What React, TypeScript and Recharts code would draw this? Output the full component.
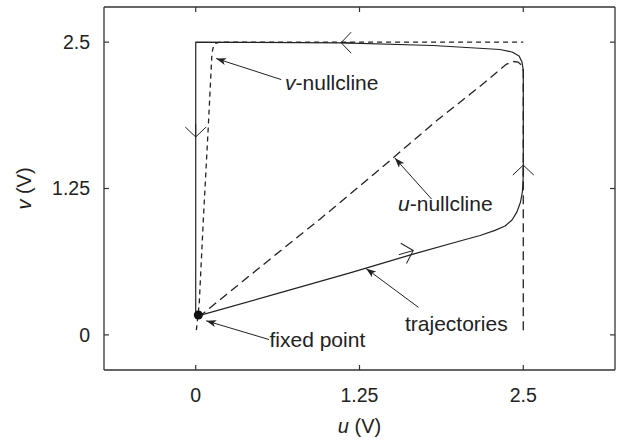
import React from 'react';
import { ComposedChart, Line, XAxis, YAxis, Scatter } from 'recharts';

// axis setup
const xDomain: [number, number] = [-0.7, 3.2];
const yDomain: [number, number] = [-0.3, 2.8];
const xTicks = [0, 1.25, 2.5];
const yTicks = [0, 1.25, 2.5];

// solid closed trajectory (u, v in volts)
const trajectory = [
  { u: 0.025, v: 0.164 },
  { u: 0.64, v: 0.358 },
  { u: 1.178, v: 0.529 },
  { u: 1.659, v: 0.69 },
  { u: 2.017, v: 0.802 },
  { u: 2.17, v: 0.849 },
  { u: 2.284, v: 0.892 },
  { u: 2.361, v: 0.93 },
  { u: 2.414, v: 0.981 },
  { u: 2.452, v: 1.05 },
  { u: 2.479, v: 1.135 },
  { u: 2.493, v: 1.22 },
  { u: 2.498, v: 1.306 },
  { u: 2.5, v: 1.4 },
  { u: 2.5, v: 2.262 },
  { u: 2.49, v: 2.33 },
  { u: 2.468, v: 2.382 },
  { u: 2.414, v: 2.416 },
  { u: 2.323, v: 2.437 },
  { u: 1.81, v: 2.471 },
  { u: 1.117, v: 2.493 },
  { u: 0.415, v: 2.498 },
  { u: 0, v: 2.5 },
  { u: 0, v: 0.17 },
];

// u-nullcline (long dashes)
const uNullcline = [
  { u: 0.02, v: 0.15 },
  { u: 0.56, v: 0.64 },
  { u: 0.95, v: 0.99 },
  { u: 1.4, v: 1.41 },
  { u: 1.84, v: 1.83 },
  { u: 2.2, v: 2.15 },
  { u: 2.37, v: 2.31 },
  { u: 2.42, v: 2.335 },
  { u: 2.46, v: 2.33 },
  { u: 2.49, v: 2.3 },
  { u: 2.5, v: 2.25 },
  { u: 2.5, v: 0 },
];

// v-nullcline (short dashes)
const vNullcline = [
  { u: 0.005, v: 0.04 },
  { u: 0.027, v: 0.272 },
  { u: 0.058, v: 0.981 },
  { u: 0.096, v: 1.778 },
  { u: 0.124, v: 2.407 },
  { u: 0.136, v: 2.467 },
  { u: 0.147, v: 2.488 },
  { u: 0.185, v: 2.5 },
  { u: 2.5, v: 2.5 },
];

const fixedPoint = [{ u: 0.02, v: 0.17 }];

// direction chevrons along the trajectory: [from, tip]
const flowArrowDown = [{ u: 0, v: 1.8 }, { u: 0, v: 1.69 }];
const flowArrowLeft = [{ u: 1.2, v: 2.495 }, { u: 1.11, v: 2.495 }];
const flowArrowUp = [{ u: 2.5, v: 1.35 }, { u: 2.5, v: 1.45 }];
const flowArrowRight = [{ u: 1.55, v: 0.685 }, { u: 1.66, v: 0.72 }];

// annotation arrows: [tail, tip]
const vNullArrow = [{ u: 0.653, v: 2.18 }, { u: 0.156, v: 2.36 }];
const uNullArrow = [{ u: 1.8, v: 1.16 }, { u: 1.52, v: 1.51 }];
const trajArrow = [{ u: 1.7, v: 0.235 }, { u: 1.3, v: 0.567 }];
const fixedArrow = [{ u: 0.56, v: -0.04 }, { u: 0.08, v: 0.12 }];

// annotation labels (text start, baseline)
const labels = [
  { u: 0.682, v: 2.09, italic: 'v', text: '-nullcline' },
  { u: 1.544, v: 1.058, italic: 'u', text: '-nullcline' },
  { u: 1.597, v: 0.033, italic: '', text: 'trajectories' },
  { u: 0.563, v: -0.103, italic: '', text: 'fixed point' },
];

const FONT = '"Liberation Sans", Arial, Helvetica, sans-serif';
const INK = '#222';

const LabelShape = (p: any) => (
  <text x={p.cx} y={p.cy} fontSize={21} fill={INK} fontFamily={FONT}>
    {p.payload.italic ? <tspan fontStyle="italic">{p.payload.italic}</tspan> : null}
    {p.payload.text}
  </text>
);

const XTitle = (p: any) => {
  const vb = p.viewBox || {};
  const x = vb.x + vb.width / 2;
  const y = vb.y + 63;
  return (
    <text x={x} y={y} textAnchor="middle" fontSize={20} fill={INK} fontFamily={FONT}>
      <tspan fontStyle="italic">u</tspan> (V)
    </text>
  );
};

const YTitle = (p: any) => {
  const vb = p.viewBox || {};
  const x = vb.x + vb.width - 80;
  const y = vb.y + vb.height / 2;
  return (
    <text
      x={x}
      y={y}
      textAnchor="middle"
      dominantBaseline="central"
      transform={`rotate(-90 ${x} ${y})`}
      fontSize={20}
      fill={INK}
      fontFamily={FONT}
    >
      <tspan fontStyle="italic">v</tspan> (V)
    </text>
  );
};

const axisLine = { stroke: '#333', strokeWidth: 1.3 };
const tickLine = { stroke: '#333', strokeWidth: 1.2 };
const tickStyle = { fontSize: 19.5, fill: INK, fontFamily: FONT };

export default function App() {
  const arrowLine = (data: any[], id: string, marker: string) => (
    <Line
      key={id}
      data={data}
      dataKey="v"
      type="linear"
      stroke={INK}
      strokeWidth={1}
      dot={false}
      activeDot={false}
      isAnimationActive={false}
      markerEnd={`url(#${marker})`}
    />
  );
  return (
    <div style={{ position: 'absolute', left: 0, top: 0, background: '#fff' }}>
      <svg width={0} height={0} style={{ position: 'absolute' }}>
        <defs>
          <marker
            id="chev"
            viewBox="-12 -12 24 24"
            refX={0}
            refY={0}
            markerWidth={24}
            markerHeight={24}
            markerUnits="userSpaceOnUse"
            orient="auto"
          >
            <path d="M-10,-10.5 L0,0 L-10,10.5" fill="none" stroke={INK} strokeWidth={1} />
          </marker>
          <marker
            id="head"
            viewBox="0 0 10 7"
            refX={10}
            refY={3.5}
            markerWidth={10}
            markerHeight={7}
            markerUnits="userSpaceOnUse"
            orient="auto"
          >
            <path d="M0,0 L10,3.5 L0,7 L2.5,3.5 z" fill={INK} />
          </marker>
        </defs>
      </svg>
      <ComposedChart width={622} height={441} margin={{ top: 6, right: 6, bottom: 30, left: 44 }}>
        <XAxis
          type="number"
          dataKey="u"
          domain={xDomain}
          ticks={xTicks}
          allowDataOverflow
          height={41}
          axisLine={axisLine}
          tickLine={tickLine}
          tickSize={-5}
          tickMargin={23}
          tick={tickStyle}
          label={{ content: XTitle }}
        />
        <XAxis
          xAxisId="top"
          orientation="top"
          type="number"
          dataKey="u"
          domain={xDomain}
          ticks={xTicks}
          allowDataOverflow
          height={1}
          axisLine={axisLine}
          tickLine={tickLine}
          tickSize={-5}
          tickFormatter={() => ''}
        />
        <YAxis
          type="number"
          dataKey="v"
          domain={yDomain}
          ticks={yTicks}
          allowDataOverflow
          width={60}
          axisLine={axisLine}
          tickLine={tickLine}
          tickSize={-5}
          tickMargin={19}
          tick={tickStyle}
          label={{ content: YTitle }}
        />
        <YAxis
          yAxisId="right"
          orientation="right"
          type="number"
          dataKey="v"
          domain={yDomain}
          ticks={yTicks}
          allowDataOverflow
          width={1}
          axisLine={axisLine}
          tickLine={tickLine}
          tickSize={-5}
          tickFormatter={() => ''}
        />
        <Line
          data={vNullcline}
          dataKey="v"
          type="linear"
          stroke={INK}
          strokeWidth={1.3}
          strokeDasharray="5 4"
          dot={false}
          activeDot={false}
          isAnimationActive={false}
        />
        <Line
          data={uNullcline}
          dataKey="v"
          type="linear"
          stroke={INK}
          strokeWidth={1.3}
          strokeDasharray="9 5"
          dot={false}
          activeDot={false}
          isAnimationActive={false}
        />
        <Line
          data={trajectory}
          dataKey="v"
          type="linear"
          stroke={INK}
          strokeWidth={1.2}
          strokeLinejoin="round"
          dot={false}
          activeDot={false}
          isAnimationActive={false}
        />
        {arrowLine(flowArrowDown, 'fd', 'chev')}
        {arrowLine(flowArrowLeft, 'fl', 'chev')}
        {arrowLine(flowArrowUp, 'fu', 'chev')}
        {arrowLine(flowArrowRight, 'fr', 'chev')}
        {arrowLine(vNullArrow, 'av', 'head')}
        {arrowLine(uNullArrow, 'au', 'head')}
        {arrowLine(trajArrow, 'at', 'head')}
        {arrowLine(fixedArrow, 'af', 'head')}
        <Scatter data={fixedPoint} fill="#111" isAnimationActive={false} />
        <Scatter data={labels} shape={LabelShape} isAnimationActive={false} />
      </ComposedChart>
    </div>
  );
}
